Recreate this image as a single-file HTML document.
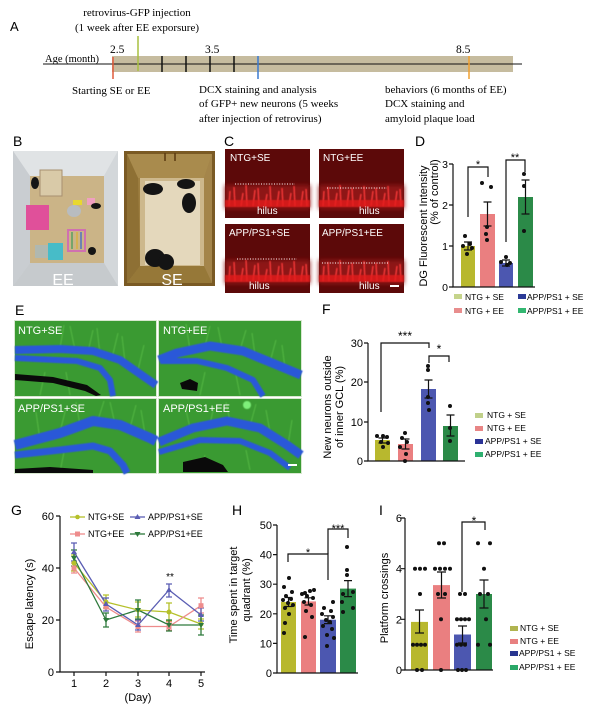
<!DOCTYPE html>
<html><head><meta charset="utf-8">
<style>
html,body{margin:0;padding:0;background:#fff;}
svg{display:block;}
.s{font-family:"Liberation Sans",Arial,sans-serif;}
.r{font-family:"Liberation Serif","Times New Roman",serif;}
</style></head>
<body>
<svg width="600" height="707" viewBox="0 0 600 707" xmlns="http://www.w3.org/2000/svg">
<defs>
  <filter id="b1" x="-20%" y="-20%" width="140%" height="140%"><feGaussianBlur stdDeviation="0.6"/></filter>
  <filter id="b2" x="-20%" y="-50%" width="140%" height="200%"><feGaussianBlur stdDeviation="2.5"/></filter>
  <g id="cf">
    <rect width="85" height="69" fill="#5c0909"/>
    <rect y="36" width="85" height="24" fill="#8e1212" filter="url(#b2)"/>
    <g stroke="#ff3a3a" stroke-width="1.3" filter="url(#b1)">
      <line x1="4" y1="57" x2="5" y2="42"/><line x1="10" y1="57" x2="9" y2="38"/>
      <line x1="16" y1="57" x2="18" y2="44"/><line x1="22" y1="57" x2="21" y2="36"/>
      <line x1="28" y1="57" x2="30" y2="41"/><line x1="34" y1="57" x2="33" y2="39"/>
      <line x1="40" y1="57" x2="42" y2="45"/><line x1="46" y1="57" x2="45" y2="37"/>
      <line x1="52" y1="57" x2="54" y2="42"/><line x1="58" y1="57" x2="57" y2="39"/>
      <line x1="64" y1="57" x2="66" y2="44"/><line x1="70" y1="57" x2="69" y2="37"/>
      <line x1="76" y1="57" x2="78" y2="42"/><line x1="82" y1="57" x2="81" y2="40"/>
    </g>
    <rect y="51" width="85" height="7" fill="#e41c1c" opacity=".8" filter="url(#b1)"/>
  </g>
</defs>
<rect width="600" height="707" fill="#fff"/>

<!-- ============ PANEL A ============ -->
<text x="10" y="31" class="s" font-size="13">A</text>
<text x="137" y="16" class="r" font-size="11" text-anchor="middle">retrovirus-GFP injection</text>
<text x="137" y="31" class="r" font-size="11" text-anchor="middle">(1 week after EE exporsure)</text>
<rect x="112" y="56" width="401" height="16" fill="#c6bc9f"/>
<line x1="43" y1="64" x2="522" y2="64" stroke="#111" stroke-width="1"/>
<text x="45" y="62" class="r" font-size="10.5">Age (month)</text>
<text x="110" y="53" class="r" font-size="11.5">2.5</text>
<text x="205" y="53" class="r" font-size="11.5">3.5</text>
<text x="456" y="53" class="r" font-size="11.5">8.5</text>
<g stroke-width="1.5">
  <line x1="113" y1="57" x2="113" y2="79" stroke="#e05a3a"/>
  <line x1="138" y1="36" x2="138" y2="71" stroke="#a8c040"/>
  <line x1="162" y1="56" x2="162" y2="72" stroke="#111"/>
  <line x1="186" y1="56" x2="186" y2="72" stroke="#111"/>
  <line x1="210" y1="56" x2="210" y2="72" stroke="#111"/>
  <line x1="234" y1="56" x2="234" y2="72" stroke="#111"/>
  <line x1="258" y1="56" x2="258" y2="79" stroke="#3a7ad0"/>
  <line x1="469" y1="56" x2="469" y2="79" stroke="#f0a030"/>
</g>
<g class="r" font-size="11">
  <text x="72" y="94">Starting SE or EE</text>
  <text x="199" y="93">DCX staining and analysis</text>
  <text x="199" y="107">of GFP+ new neurons (5 weeks</text>
  <text x="199" y="122">after injection of retrovirus)</text>
  <text x="385" y="93">behaviors (6 months of EE)</text>
  <text x="385" y="107">DCX staining and</text>
  <text x="385" y="122">amyloid plaque load</text>
</g>

<!-- ============ PANEL B ============ -->
<text x="13" y="146" class="s" font-size="14">B</text>
<rect x="13" y="151" width="105" height="135" fill="#d5d9dc"/>
<polygon points="13,151 118,151 104,176 30,176" fill="#e0e3e5"/>
<polygon points="13,151 30,176 30,263 13,286" fill="#c9cdd1"/>
<polygon points="118,151 104,176 104,263 118,286" fill="#d3d7da"/>
<polygon points="13,286 30,263 104,263 118,286" fill="#c6cacd"/>
<rect x="30" y="176" width="74" height="87" fill="#cbb487"/>
<rect x="40" y="170" width="22" height="26" fill="#d9caa8" stroke="#a89070" stroke-width="1"/>
<rect x="26" y="205" width="23" height="25" fill="#e0509a"/>
<rect x="35" y="245" width="13" height="13" fill="#b0b8b0"/>
<rect x="48" y="243" width="15" height="17" fill="#47bcc8"/>
<rect x="68" y="230" width="17" height="21" fill="none" stroke="#d070b0" stroke-width="2"/>
<line x1="72" y1="232" x2="72" y2="249" stroke="#58a060" stroke-width="1.5"/>
<line x1="77" y1="232" x2="77" y2="249" stroke="#d8b040" stroke-width="1.5"/>
<line x1="81" y1="232" x2="81" y2="249" stroke="#5070c0" stroke-width="1.5"/>
<rect x="73" y="200" width="9" height="5" fill="#e8d830"/>
<rect x="87" y="198" width="8" height="7" fill="#f0a0c0"/>
<ellipse cx="74" cy="211" rx="7" ry="6" fill="#b8bcc0"/>
<ellipse cx="35" cy="183" rx="4" ry="6" fill="#151515"/>
<ellipse cx="96" cy="206" rx="5" ry="3" fill="#151515"/>
<ellipse cx="92" cy="251" rx="4" ry="4" fill="#151515"/>
<text x="63" y="285" class="s" font-size="16" fill="#fff" text-anchor="middle">EE</text>
<rect x="124" y="151" width="91" height="135" fill="#7a5a24"/>
<rect x="127" y="154" width="85" height="129" fill="#9d7e40"/>
<polygon points="127,154 212,154 204,178 138,178" fill="#a98b4d"/>
<polygon points="127,154 138,178 140,266 127,283" fill="#8e7034"/>
<polygon points="212,154 204,178 204,266 212,283" fill="#a4854a"/>
<polygon points="127,283 140,266 204,266 212,283" fill="#967838"/>
<rect x="140" y="178" width="64" height="88" fill="#cdb88c"/>
<rect x="145" y="181" width="55" height="84" fill="#e4d8bc"/>
<line x1="165" y1="153" x2="165" y2="161" stroke="#5a3a10" stroke-width="1.5"/>
<line x1="175" y1="153" x2="175" y2="161" stroke="#5a3a10" stroke-width="1.5"/>
<ellipse cx="153" cy="189" rx="10" ry="6" fill="#141414"/>
<ellipse cx="186" cy="184" rx="9" ry="5" fill="#141414"/>
<ellipse cx="189" cy="203" rx="7" ry="10" fill="#141414"/>
<ellipse cx="155" cy="258" rx="10" ry="9" fill="#141414"/>
<ellipse cx="166" cy="262" rx="8" ry="8" fill="#141414"/>
<text x="172" y="285" class="s" font-size="16" fill="#fff" text-anchor="middle">SE</text>

<!-- ============ PANEL C ============ -->
<text x="224" y="146" class="s" font-size="14">C</text>
<use href="#cf" x="225" y="149"/>
<use href="#cf" x="319" y="149"/>
<use href="#cf" x="225" y="224"/>
<use href="#cf" x="319" y="224"/>
<g stroke="#fff" stroke-width="1" stroke-dasharray="1 1.6">
  <line x1="235" y1="184" x2="295" y2="184"/>
  <line x1="327" y1="188" x2="387" y2="188"/>
  <line x1="237" y1="259" x2="297" y2="259"/>
  <line x1="322" y1="263" x2="388" y2="263"/>
</g>
<g class="s" font-size="10" fill="#fff">
  <text x="230" y="161">NTG+SE</text>
  <text x="323" y="161">NTG+EE</text>
  <text x="229" y="236">APP/PS1+SE</text>
  <text x="322" y="236">APP/PS1+EE</text>
  <text x="257" y="214">hilus</text>
  <text x="359" y="214">hilus</text>
  <text x="249" y="289">hilus</text>
  <text x="359" y="289">hilus</text>
</g>
<line x1="390" y1="286" x2="399" y2="286" stroke="#fff" stroke-width="2"/>

<!-- ============ PANEL D ============ -->
<text x="415" y="146" class="s" font-size="14">D</text>
<g class="s" font-size="11">
  <text transform="translate(427,226) rotate(-90)" text-anchor="middle">DG Fluorescent Intensity</text>
  <text transform="translate(438,192) rotate(-90)" text-anchor="middle">(% of control)</text>
</g>
<g class="s" font-size="10.5" text-anchor="end">
  <text x="448" y="168">3</text><text x="448" y="209">2</text>
  <text x="448" y="250">1</text><text x="448" y="291">0</text>
</g>
<rect x="461" y="246" width="14" height="41" fill="#b8b82e"/>
<rect x="480" y="214" width="15" height="73" fill="#ea7f80"/>
<rect x="499" y="263" width="14" height="24" fill="#4c57b0"/>
<rect x="518" y="197" width="15" height="90" fill="#2b8a48"/>
<g stroke="#111" stroke-width="1.2" fill="none">
  <path d="M453 164 V287 H535"/>
  <path d="M449 164 H453 M449 205 H453 M449 246 H453 M449 287 H453"/>
  <path d="M468 242 V250 M464 242 H472 M464 250 H472"/>
  <path d="M487.5 202 V226 M483.5 202 H491.5 M483.5 226 H491.5"/>
  <path d="M506 260 V266 M502 260 H510 M502 266 H510"/>
  <path d="M525.5 180 V214 M521.5 180 H529.5 M521.5 214 H529.5"/>
  <path d="M468 217 V167 H488 V177"/>
  <path d="M506 242 V160 H525 V172"/>
</g>
<g class="s" font-size="11" text-anchor="middle">
  <text x="478" y="168">*</text><text x="515" y="161">**</text>
</g>
<g fill="#111">
  <circle cx="465" cy="236" r="2"/><circle cx="470" cy="244" r="2"/><circle cx="463" cy="246" r="2"/>
  <circle cx="472" cy="248" r="2"/><circle cx="467" cy="254" r="2"/>
  <circle cx="482" cy="183" r="2"/><circle cx="491" cy="187" r="2"/><circle cx="487" cy="227" r="2"/>
  <circle cx="486" cy="234" r="2"/><circle cx="487" cy="240" r="2"/>
  <circle cx="506" cy="257" r="2"/><circle cx="501" cy="262" r="2"/><circle cx="510" cy="263" r="2"/><circle cx="507" cy="265" r="2"/>
  <circle cx="524" cy="174" r="2"/><circle cx="524" cy="186" r="2"/><circle cx="524" cy="231" r="2"/>
</g>
<g class="s" font-size="8.5">
  <rect x="454" y="294" width="8" height="5" fill="#c5d48b"/><text x="465" y="300">NTG + SE</text>
  <rect x="518" y="294" width="8" height="5" fill="#2b3a96"/><text x="527" y="300">APP/PS1 + SE</text>
  <rect x="454" y="308" width="8" height="5" fill="#e88d8d"/><text x="465" y="314">NTG + EE</text>
  <rect x="518" y="308" width="8" height="5" fill="#33b771"/><text x="527" y="314">APP/PS1 + EE</text>
</g>

<!-- ============ PANEL E ============ -->
<text x="15" y="315" class="s" font-size="14">E</text>
<g>
  <rect x="14" y="320" width="143" height="77" fill="#d8e8d0"/>
  <rect x="158" y="320" width="144" height="77" fill="#d8e8d0"/>
  <rect x="14" y="398" width="143" height="76" fill="#d8e8d0"/>
  <rect x="158" y="398" width="144" height="76" fill="#d8e8d0"/>
  <rect x="15" y="321" width="141" height="75" fill="#3a9a32"/>
  <rect x="159" y="321" width="142" height="75" fill="#3a9a32"/>
  <rect x="15" y="399" width="141" height="74" fill="#3a9a32"/>
  <rect x="159" y="399" width="142" height="74" fill="#3a9a32"/>
  <g stroke="#5cc048" stroke-width="1" opacity=".8" filter="url(#b1)">
    <path d="M60 348 L64 325 M75 350 L70 326 M88 352 L93 330 M100 354 L97 328 M112 358 L118 333 M125 362 L122 336 M138 370 L144 345"/>
    <path d="M190 350 L186 324 M205 346 L210 326 M222 347 L218 327 M240 350 L246 330 M255 355 L252 333 M270 362 L276 340 M285 368 L282 345"/>
    <path d="M40 440 L36 412 M60 432 L66 408 M80 425 L76 402 M98 420 L104 401 M115 424 L110 402 M130 428 L136 405 M145 434 L141 410"/>
    <path d="M190 428 L186 410 M210 424 L214 406 M230 421 L226 402 M250 426 L256 404 M270 432 L266 410 M288 445 L292 420"/>
    <path d="M40 395 L45 372 M70 395 L66 372 M200 395 L205 372 M240 395 L236 375 M60 472 L64 452 M200 472 L205 455 M250 470 L246 450"/>
  </g>
  <g fill="none" stroke="#2a58d8" stroke-linejoin="round" stroke-linecap="butt" filter="url(#b1)">
    <path d="M15 350 L60 349 L93 351 L120 360 L143 376 L156 385" stroke-width="8"/>
    <path d="M15 358 L77 361 L100 368 L110 380 L113 396" stroke-width="6"/>
    <path d="M159 360 L177 353 L210 346 L243 351 L277 365 L301 375" stroke-width="9"/>
    <path d="M162 361 L197 361 L227 368 L253 380 L263 396" stroke-width="6"/>
    <path d="M15 445 L60 433 L93 421 L120 425 L150 438 L156 441" stroke-width="10"/>
    <path d="M15 455 L60 450 L93 446 L110 451 L123 465 L127 473" stroke-width="7"/>
    <path d="M159 442 L193 428 L227 421 L260 428 L287 445 L301 455" stroke-width="9"/>
    <path d="M159 452 L200 440 L240 441 L270 453 L290 468" stroke-width="6"/>
  </g>
  <g fill="#0a0a0a">
    <polygon points="15,374 53,377 87,385 101,395 96,396 85,391 53,383 15,380"/>
    <polygon points="180,383 190,379 198,383 197,391 182,389"/>
    <polygon points="15,469 50,467 93,470 93,473 15,473"/>
    <polygon points="183,462 205,457 223,465 228,472 183,472"/>
  </g>
  <g class="s" font-size="11" fill="#fff">
    <text x="18" y="334">NTG+SE</text>
    <text x="163" y="334">NTG+EE</text>
    <text x="18" y="412">APP/PS1+SE</text>
    <text x="163" y="412">APP/PS1+EE</text>
  </g>
  <line x1="288" y1="465" x2="297" y2="465" stroke="#fff" stroke-width="2"/>
  <circle cx="247" cy="405" r="4" fill="#7ef07a" filter="url(#b1)"/>
</g>

<!-- ============ PANEL F ============ -->
<text x="322" y="314" class="s" font-size="14">F</text>
<g class="s" font-size="11">
  <text transform="translate(331,407) rotate(-90)" text-anchor="middle">New neurons outside</text>
  <text transform="translate(343,407) rotate(-90)" text-anchor="middle">of inner GCL (%)</text>
</g>
<g class="s" font-size="11" text-anchor="end">
  <text x="363" y="347">30</text><text x="363" y="386">20</text>
  <text x="363" y="426">10</text><text x="363" y="465">0</text>
</g>
<rect x="375" y="440" width="15" height="21" fill="#b8b82e"/>
<rect x="398" y="444" width="15" height="17" fill="#ea7f80"/>
<rect x="421" y="389" width="15" height="72" fill="#4c57b0"/>
<rect x="443" y="426" width="15" height="35" fill="#2b8a48"/>
<g stroke="#111" stroke-width="1.2" fill="none">
  <path d="M368 343 V461 H465"/>
  <path d="M364 343 H368 M364 382 H368 M364 422 H368 M364 461 H368"/>
  <path d="M382.5 438 V443 M378.5 438 H386.5 M378.5 443 H386.5"/>
  <path d="M405.5 439 V449 M401.5 439 H409.5 M401.5 449 H409.5"/>
  <path d="M428.5 380 V398 M424.5 380 H432.5 M424.5 398 H432.5"/>
  <path d="M450.5 415 V436 M446.5 415 H454.5 M446.5 436 H454.5"/>
  <path d="M381 412 V343 H429 V348"/>
  <path d="M429 363 V356 H449 V362"/>
</g>
<g class="s" font-size="12" text-anchor="middle">
  <text x="405" y="340">***</text><text x="439" y="353">*</text>
</g>
<g fill="#111">
  <circle cx="377" cy="436" r="2"/><circle cx="383" cy="436" r="2"/><circle cx="387" cy="437" r="2"/>
  <circle cx="381" cy="442" r="2"/><circle cx="388" cy="443" r="2"/><circle cx="383" cy="447" r="2"/>
  <circle cx="405" cy="433" r="2"/><circle cx="402" cy="438" r="2"/><circle cx="407" cy="442" r="2"/>
  <circle cx="400" cy="447" r="2"/><circle cx="406" cy="454" r="2"/><circle cx="405" cy="461" r="2"/>
  <circle cx="428" cy="366" r="2"/><circle cx="428" cy="370" r="2"/><circle cx="428" cy="397" r="2"/>
  <circle cx="428" cy="403" r="2"/><circle cx="429" cy="410" r="2"/>
  <circle cx="450" cy="406" r="2"/><circle cx="450" cy="428" r="2"/><circle cx="450" cy="441" r="2"/>
</g>
<g class="s" font-size="8.5">
  <rect x="475" y="413" width="8" height="5" fill="#c0d08a"/><text x="487" y="418">NTG + SE</text>
  <rect x="475" y="426" width="8" height="5" fill="#e88585"/><text x="487" y="431">NTG + EE</text>
  <rect x="475" y="439" width="8" height="5" fill="#2a3296"/><text x="485" y="444">APP/PS1 + SE</text>
  <rect x="475" y="452" width="8" height="5" fill="#2fb070"/><text x="485" y="457">APP/PS1 + EE</text>
</g>

<!-- ============ PANEL G ============ -->
<text x="11" y="515" class="s" font-size="14">G</text>
<text transform="translate(33,604) rotate(-90)" class="s" font-size="11" text-anchor="middle">Escape latency (s)</text>
<g class="s" font-size="11" text-anchor="end">
  <text x="54" y="520">60</text><text x="54" y="572">40</text>
  <text x="54" y="624">20</text><text x="54" y="676">0</text>
</g>
<g class="s" font-size="11" text-anchor="middle">
  <text x="74" y="687">1</text><text x="106" y="687">2</text><text x="138" y="687">3</text>
  <text x="169" y="687">4</text><text x="201" y="687">5</text>
  <text x="138" y="701">(Day)</text>
</g>
<g stroke="#111" stroke-width="1.2" fill="none">
  <path d="M60 516 V672 H205"/>
  <path d="M56 516 H60 M56 568 H60 M56 620 H60 M56 672 H60"/>
  <path d="M74 672 V676 M106 672 V676 M138 672 V676 M169 672 V676 M201 672 V676"/>
</g>
<g fill="none" stroke-width="1.3">
  <g stroke="#b5c02a">
    <polyline points="74,563 106,602 138,610 169,612 201,624"/>
    <path d="M74 555 V571 M71 555 H77 M71 571 H77 M106 595 V608 M103 595 H109 M103 608 H109 M138 602 V617 M135 602 H141 M135 617 H141 M169 603 V621 M166 603 H172 M166 621 H172 M201 619 V629 M198 619 H204 M198 629 H204"/>
  </g>
  <g stroke="#ee8c8c">
    <polyline points="74,568 106,607 138,626.5 169,626.5 201,605.7"/>
    <path d="M74 563 V573 M71 563 H77 M71 573 H77 M138 621 V632 M135 621 H141 M135 632 H141 M169 622 V630 M166 622 H172 M166 630 H172 M201 598 V613 M198 598 H204 M198 613 H204"/>
  </g>
  <g stroke="#5a5db3">
    <polyline points="74,552 106,604 138,625 169,590 201,615"/>
    <path d="M74 543 V561 M71 543 H77 M71 561 H77 M106 598 V611 M103 598 H109 M103 611 H109 M138 620 V630 M135 620 H141 M135 630 H141 M169 584 V597 M166 584 H172 M166 597 H172 M201 608 V621 M198 608 H204 M198 621 H204"/>
  </g>
  <g stroke="#2e7a3c">
    <polyline points="74,558 106,620 138,610 169,625 201,625"/>
    <path d="M74 550 V566 M71 550 H77 M71 566 H77 M106 613 V627 M103 613 H109 M103 627 H109 M138 600 V619 M135 600 H141 M135 619 H141 M169 620 V631 M166 620 H172 M166 631 H172 M201 615 V635 M198 615 H204 M198 635 H204"/>
  </g>
</g>
<g fill="#b5c02a">
  <circle cx="74" cy="563" r="2.5"/><circle cx="106" cy="602" r="2.5"/><circle cx="138" cy="610" r="2.5"/><circle cx="169" cy="612" r="2.5"/><circle cx="201" cy="624" r="2.5"/>
</g>
<g fill="#ee8c8c">
  <rect x="71.5" y="565.5" width="5" height="5"/><rect x="103.5" y="604.5" width="5" height="5"/><rect x="135.5" y="624" width="5" height="5"/><rect x="166.5" y="624" width="5" height="5"/><rect x="198.5" y="603.2" width="5" height="5"/>
</g>
<g fill="#5a5db3">
  <path d="M74 549 l3 5 h-6z M106 601 l3 5 h-6z M138 622 l3 5 h-6z M169 587 l3 5 h-6z M201 612 l3 5 h-6z"/>
</g>
<g fill="#2e7a3c">
  <path d="M74 561 l3 -5 h-6z M106 623 l3 -5 h-6z M138 613 l3 -5 h-6z M169 628 l3 -5 h-6z M201 628 l3 -5 h-6z"/>
</g>
<text x="170" y="580" class="s" font-size="10" text-anchor="middle">**</text>
<g stroke-width="1.3">
  <line x1="70" y1="517" x2="85" y2="517" stroke="#b5c02a"/>
  <line x1="130" y1="517" x2="145" y2="517" stroke="#5a5db3"/>
  <line x1="70" y1="534" x2="85" y2="534" stroke="#ee8c8c"/>
  <line x1="130" y1="534" x2="145" y2="534" stroke="#2e7a3c"/>
</g>
<circle cx="77.5" cy="517" r="2.3" fill="#b5c02a"/>
<path d="M137.5 514 l3 5 h-6z" fill="#5a5db3"/>
<rect x="75" y="531.5" width="5" height="5" fill="#ee8c8c"/>
<path d="M137.5 537 l3 -5 h-6z" fill="#2e7a3c"/>
<g class="s" font-size="9">
  <text x="88" y="520">NTG+SE</text>
  <text x="148" y="520">APP/PS1+SE</text>
  <text x="88" y="537">NTG+EE</text>
  <text x="148" y="537">APP/PS1+EE</text>
</g>

<!-- ============ PANEL H ============ -->
<text x="232" y="515" class="s" font-size="14">H</text>
<g class="s" font-size="11">
  <text transform="translate(237,595) rotate(-90)" text-anchor="middle">Time spent in target</text>
  <text transform="translate(250,590) rotate(-90)" text-anchor="middle">quadrant (%)</text>
</g>
<g class="s" font-size="11" text-anchor="end">
  <text x="272" y="529">50</text><text x="272" y="558.6">40</text><text x="272" y="588.2">30</text>
  <text x="272" y="617.8">20</text><text x="272" y="647.4">10</text><text x="272" y="677">0</text>
</g>
<rect x="281" y="602" width="15" height="71" fill="#b8b82e"/>
<rect x="301" y="601.4" width="15" height="71.6" fill="#ea7f80"/>
<rect x="320" y="619.7" width="16" height="53.3" fill="#4c57b0"/>
<rect x="340" y="588.6" width="16" height="84.4" fill="#2b8a48"/>
<g stroke="#111" stroke-width="1.2" fill="none">
  <path d="M277 525 V673 H358"/>
  <path d="M273 525 H277 M273 554.6 H277 M273 584.2 H277 M273 613.8 H277 M273 643.4 H277 M273 673 H277"/>
  <path d="M288.5 597.5 V606.5 M284.5 597.5 H292.5 M284.5 606.5 H292.5"/>
  <path d="M308.5 597.8 V605 M304.5 597.8 H312.5 M304.5 605 H312.5"/>
  <path d="M328 615.8 V623.6 M324 615.8 H332 M324 623.6 H332"/>
  <path d="M348 580.6 V596.6 M344 580.6 H352 M344 596.6 H352"/>
  <path d="M288 562 V554 H328 V580"/>
  <path d="M328 554 V529 H348 V538"/>
</g>
<g class="s" font-size="11" text-anchor="middle">
  <text x="308" y="556">*</text><text x="338" y="532">***</text>
</g>
<g fill="#111">
  <circle cx="289" cy="578" r="2"/><circle cx="284" cy="587" r="2"/><circle cx="292" cy="592" r="2"/>
  <circle cx="286" cy="596" r="2"/><circle cx="291" cy="599" r="2"/><circle cx="283" cy="600" r="2"/>
  <circle cx="288" cy="603" r="2"/><circle cx="293" cy="605" r="2"/><circle cx="285" cy="608" r="2"/>
  <circle cx="289" cy="614" r="2"/><circle cx="285" cy="623" r="2"/><circle cx="284" cy="633" r="2"/>
  <circle cx="314" cy="590" r="2"/><circle cx="310" cy="591" r="2"/><circle cx="305" cy="593" r="2"/>
  <circle cx="302" cy="594" r="2"/><circle cx="307" cy="596" r="2"/><circle cx="313" cy="598" r="2"/>
  <circle cx="304" cy="602" r="2"/><circle cx="311" cy="605" r="2"/><circle cx="306" cy="611" r="2"/>
  <circle cx="312" cy="617" r="2"/><circle cx="305" cy="637" r="2"/>
  <circle cx="333" cy="602" r="2"/><circle cx="324" cy="608" r="2"/><circle cx="331" cy="611" r="2"/>
  <circle cx="322" cy="614" r="2"/><circle cx="333" cy="617" r="2"/><circle cx="326" cy="620" r="2"/>
  <circle cx="330" cy="622" r="2"/><circle cx="323" cy="626" r="2"/><circle cx="332" cy="629" r="2"/>
  <circle cx="327" cy="635" r="2"/><circle cx="334" cy="638" r="2"/><circle cx="327" cy="646" r="2"/>
  <circle cx="347" cy="547" r="2"/><circle cx="347" cy="570" r="2"/><circle cx="347" cy="575" r="2"/>
  <circle cx="343" cy="594" r="2"/><circle cx="353" cy="592" r="2"/><circle cx="342" cy="602" r="2"/>
  <circle cx="353" cy="608" r="2"/><circle cx="343" cy="612" r="2"/>
</g>

<!-- ============ PANEL I ============ -->
<text x="379" y="515" class="s" font-size="14">I</text>
<text transform="translate(388,598) rotate(-90)" class="s" font-size="11" text-anchor="middle">Platform crossings</text>
<g class="s" font-size="11" text-anchor="end">
  <text x="402" y="522">6</text><text x="402" y="572.7">4</text>
  <text x="402" y="623.3">2</text><text x="402" y="674">0</text>
</g>
<rect x="411" y="621.9" width="17" height="48.1" fill="#b8b82e"/>
<rect x="433" y="585.1" width="17" height="84.9" fill="#ea7f80"/>
<rect x="454" y="634.5" width="17" height="35.5" fill="#4c57b0"/>
<rect x="476" y="594" width="16" height="76" fill="#2b8a48"/>
<g stroke="#111" stroke-width="1.2" fill="none">
  <path d="M405 518 V670 H493"/>
  <path d="M401 518 H405 M401 568.7 H405 M401 619.3 H405 M401 670 H405"/>
  <path d="M419.5 610 V633 M415 610 H424 M415 633 H424"/>
  <path d="M441.5 572 V598 M437 572 H446 M437 598 H446"/>
  <path d="M462.5 626 V643 M458 626 H467 M458 643 H467"/>
  <path d="M484 580 V608 M479.5 580 H488.5 M479.5 608 H488.5"/>
  <path d="M462 592 V522 H485 V530"/>
</g>
<text x="474" y="525" class="s" font-size="12" text-anchor="middle">*</text>
<g fill="#111">
  <circle cx="415" cy="568.7" r="2"/><circle cx="420" cy="568.7" r="2"/><circle cx="425" cy="568.7" r="2"/>
  <circle cx="420" cy="594" r="2"/>
  <circle cx="413" cy="644.7" r="2"/><circle cx="417" cy="644.7" r="2"/><circle cx="421" cy="644.7" r="2"/><circle cx="425" cy="644.7" r="2"/>
  <circle cx="417" cy="670" r="2"/><circle cx="422" cy="670" r="2"/>
  <circle cx="439" cy="543.3" r="2"/><circle cx="444" cy="543.3" r="2"/>
  <circle cx="435" cy="568.7" r="2"/><circle cx="440" cy="568.7" r="2"/><circle cx="445" cy="568.7" r="2"/><circle cx="450" cy="568.7" r="2"/>
  <circle cx="438" cy="594" r="2"/><circle cx="445" cy="594" r="2"/>
  <circle cx="441" cy="619.3" r="2"/><circle cx="441" cy="670" r="2"/>
  <circle cx="460" cy="594" r="2"/><circle cx="465" cy="594" r="2"/>
  <circle cx="457" cy="619.3" r="2"/><circle cx="461" cy="619.3" r="2"/><circle cx="465" cy="619.3" r="2"/><circle cx="469" cy="619.3" r="2"/>
  <circle cx="457" cy="644.7" r="2"/><circle cx="461" cy="644.7" r="2"/><circle cx="465" cy="644.7" r="2"/>
  <circle cx="458" cy="670" r="2"/><circle cx="462" cy="670" r="2"/><circle cx="466" cy="670" r="2"/>
  <circle cx="478" cy="543.3" r="2"/><circle cx="490" cy="543.3" r="2"/>
  <circle cx="484" cy="568.7" r="2"/>
  <circle cx="480" cy="594" r="2"/><circle cx="488" cy="594" r="2"/>
  <circle cx="486" cy="619.3" r="2"/>
  <circle cx="478" cy="644.7" r="2"/><circle cx="490" cy="644.7" r="2"/>
</g>
<g class="s" font-size="8.5">
  <rect x="510" y="626" width="8" height="5" fill="#b0b450"/><text x="520" y="631">NTG + SE</text>
  <rect x="510" y="639" width="8" height="5" fill="#e88080"/><text x="520" y="644">NTG + EE</text>
  <rect x="510" y="651" width="8" height="5" fill="#283590"/><text x="519" y="656">APP/PS1 + SE</text>
  <rect x="510" y="665" width="8" height="5" fill="#2aa868"/><text x="519" y="670">APP/PS1 + EE</text>
</g>
</svg>
</body></html>
